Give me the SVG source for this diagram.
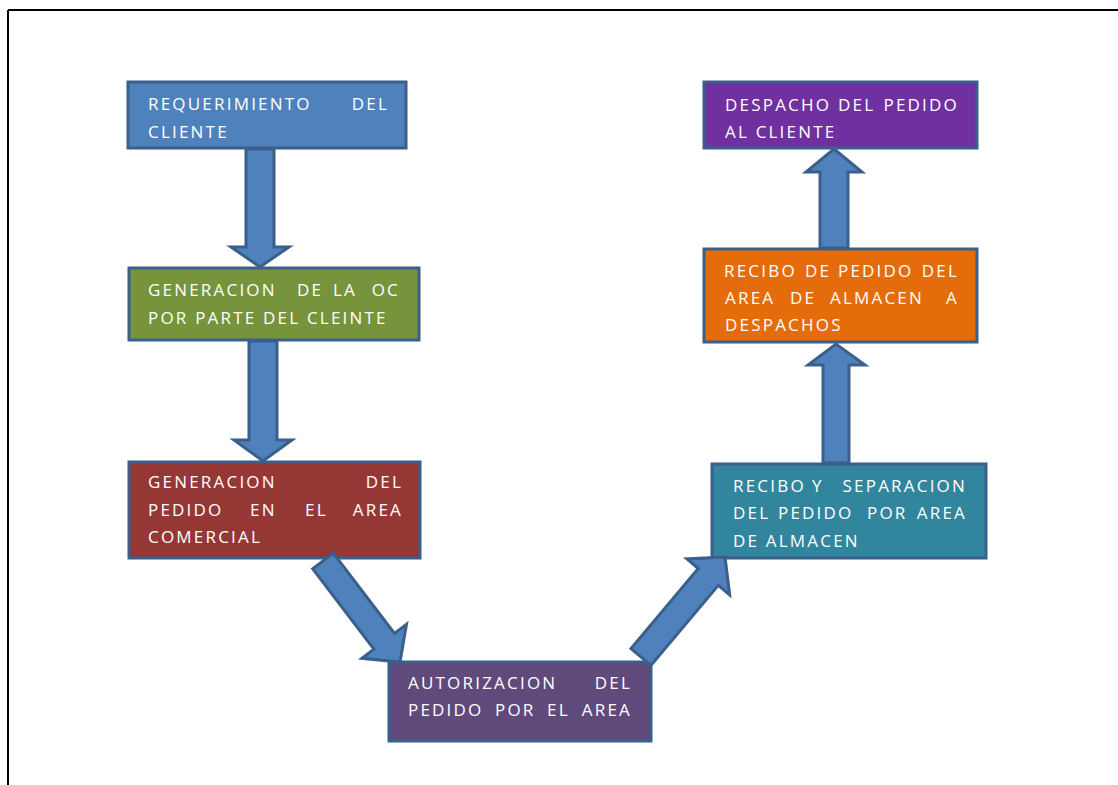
<svg xmlns="http://www.w3.org/2000/svg" width="1118" height="785" viewBox="0 0 1118 785">
<style>
.box{stroke:#3A5F8B;stroke-width:3}
.arr{fill:#4F81BD;stroke:#3A5F8B;stroke-width:3;stroke-linejoin:miter}
text{font-family:"Open Sans","Liberation Sans",sans-serif;font-size:17px;fill:#FFFFFF;letter-spacing:2.2px}
.e{text-anchor:end}
</style>
<rect width="1118" height="785" fill="#FFFFFF"/>
<g id="frame" stroke="#000000" stroke-width="2" fill="none">
<line x1="8" y1="10" x2="1118" y2="10"/>
<line x1="8" y1="10" x2="8" y2="785"/>
</g>
<g id="n1">
<rect class="box" x="128" y="82" width="278" height="66" fill="#4F81BD"/>
<text x="148" y="110">REQUERIMIENTO</text>
<text class="e" x="389" y="110">DEL</text>
<text x="148" y="138">CLIENTE</text>
</g>
<g id="n2">
<rect class="box" x="129" y="268" width="290" height="72" fill="#77933C"/>
<text x="148" y="296">GENERACION</text>
<text x="297" y="296">DE</text>
<text x="333" y="296">LA</text>
<text class="e" x="400" y="296">OC</text>
<text x="148" y="324">POR PARTE DEL CLEINTE</text>
</g>
<g id="n3">
<rect class="box" x="129" y="462" width="291" height="96" fill="#953735"/>
<text x="148" y="488">GENERACION</text>
<text class="e" x="403" y="488">DEL</text>
<text x="148" y="516">PEDIDO</text>
<text x="250" y="516">EN</text>
<text x="305" y="516">EL</text>
<text class="e" x="403" y="516">AREA</text>
<text x="148" y="543">COMERCIAL</text>
</g>
<g id="n4">
<rect class="box" x="389" y="662" width="262" height="79" fill="#604A7B"/>
<text x="408" y="689">AUTORIZACION</text>
<text class="e" x="632" y="689">DEL</text>
<text x="408" y="716">PEDIDO</text>
<text x="495" y="716">POR</text>
<text x="547" y="716">EL</text>
<text class="e" x="632" y="716">AREA</text>
</g>
<g id="n5">
<rect class="box" x="712" y="464" width="274" height="94" fill="#31859C"/>
<text x="733" y="492">RECIBO</text>
<text x="812" y="492">Y</text>
<text class="e" x="967" y="492">SEPARACION</text>
<text x="733" y="519">DEL</text>
<text x="778" y="519">PEDIDO</text>
<text x="867" y="519">POR</text>
<text class="e" x="967" y="519">AREA</text>
<text x="733" y="547">DE ALMACEN</text>
</g>
<g id="n6">
<rect class="box" x="704" y="249" width="273" height="93" fill="#E46C0A"/>
<text x="724" y="277">RECIBO</text>
<text x="805" y="277">DE</text>
<text x="838" y="277">PEDIDO</text>
<text class="e" x="959" y="277">DEL</text>
<text x="725" y="304">AREA</text>
<text x="790" y="304">DE</text>
<text x="830" y="304">ALMACEN</text>
<text class="e" x="959" y="304">A</text>
<text x="725" y="331">DESPACHOS</text>
</g>
<g id="n7">
<rect class="box" x="704" y="82" width="273" height="66" fill="#7030A0"/>
<text x="725" y="111">DESPACHO</text>
<text x="838" y="111">DEL</text>
<text class="e" x="959" y="111">PEDIDO</text>
<text x="725" y="138">AL CLIENTE</text>
</g>
<g id="connectors">
<polygon class="arr" points="246,149 274,149 274,247 289,247 260,267 231,247 246,247"/>
<polygon class="arr" points="249,341 277,341 277,440 292,440 263,461 234,440 249,440"/>
<polygon class="arr" points="820,248 848,248 848,172 862,172 834,149 806,172 820,172"/>
<polygon class="arr" points="823,463 849,463 849,365 865,365 836,344 808,365 823,365"/>
<polygon class="arr" points="333.3,553.1 394.5,633.4 406.5,624.3 400,662 361.9,658.3 373.9,649.2 312.7,568.9"/>
<polygon class="arr" points="651,665.4 718.3,585.3 729.7,594.9 725,557 686.9,558.9 698.3,568.5 631,648.6"/>
</g>
</svg>
